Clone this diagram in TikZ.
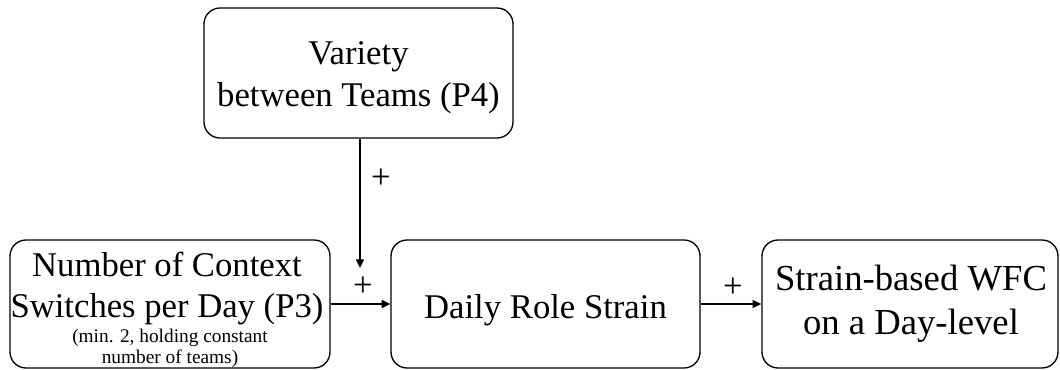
\documentclass[tikz,border=0pt]{standalone}
\usepackage{fontspec}
\setmainfont{Liberation Serif}
\usetikzlibrary{arrows.meta}
\tikzset{
  box/.style={draw=black, line width=1pt, rounded corners=12pt, inner sep=0pt},
  bigtxt/.style={font=\fontsize{26}{31}\selectfont, align=center, inner sep=0pt},
  rtxt/.style={font=\fontsize{27.5}{33}\selectfont, align=center, inner sep=0pt},
  smalltxt/.style={font=\fontsize{14.5}{15.75}\selectfont, align=center, inner sep=0pt},
  plus/.style={font=\fontsize{26}{31}\selectfont, inner sep=0pt},
  arr/.style={line width=1pt, -{Triangle[length=6.5pt,width=6pt]}}
}
\begin{document}
\begin{tikzpicture}[x=0.75pt, y=-0.75pt]
\useasboundingbox (0,0) rectangle (1060,370);
% boxes
\node[box, minimum width=231.75pt, minimum height=97.5pt] (var) at (358.5,73) {};
\node[box, minimum width=240pt, minimum height=96pt] (ctx) at (170,304) {};
\node[box, minimum width=231.75pt, minimum height=96pt] (daily) at (545.5,304) {};
\node[box, minimum width=222pt, minimum height=96pt] (wfc) at (910,304) {};
% texts
\node[bigtxt, anchor=north] (vartxt) at (358.5,41.5) {Variety\\between Teams (P4)};
\node[bigtxt, anchor=north] (ctxtxt) at (167,251.5) {Number of Context\\Switches per Day (P3)};
\node[smalltxt, anchor=north] (ctxsmall) at (170,328.6) {(min. 2, holding constant\\number of teams)};
\node[bigtxt, anchor=base] (dailytxt) at (545.5,318) {Daily Role Strain};
\node[rtxt, anchor=north] (wfctxt) at (911,265) {Strain-based WFC\\on a Day-level};
% connectors
\coordinate (vtip) at (360,268);
\draw[arr] (var.south -| vtip) -- (vtip);
\draw[arr] (ctx.east) -- (daily.west);
\draw[arr] (daily.east) -- (wfc.west);
% labels
\node[plus] (p1) at (381,179) {+};
\node[plus] (p2) at (363,287) {+};
\node[plus] (p3) at (733,288) {+};
\end{tikzpicture}
\end{document}
